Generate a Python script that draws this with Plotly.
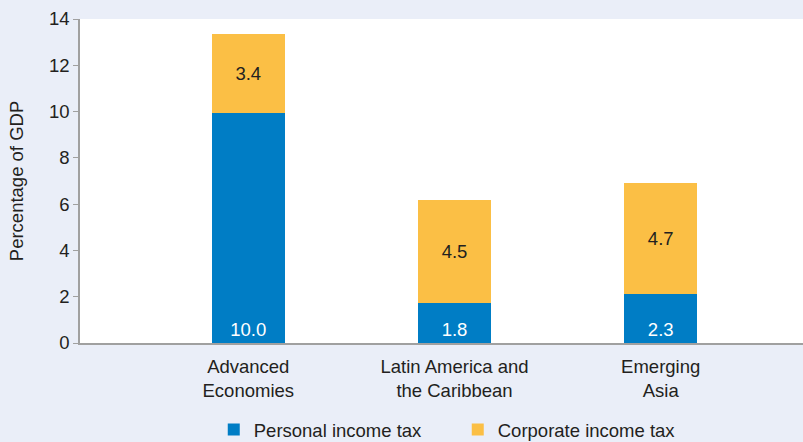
import plotly.graph_objects as go

categories = ["Advanced<br>Economies", "Latin America and<br>the Caribbean", "Emerging<br>Asia"]
positions = [1, 2, 3]
personal = [9.95, 1.75, 2.1]
corporate = [3.4, 4.45, 4.8]
personal_labels = ["10.0", "1.8", "2.3"]
corporate_labels = ["3.4", "4.5", "4.7"]
y_ticks = [0, 2, 4, 6, 8, 10, 12, 14]

FONT = "Liberation Sans, Arial, sans-serif"
TXT = "#231F20"
BLUE = "#007DC5"
ORANGE = "#FBBF45"
FS = 18.5

fig = go.Figure()
fig.add_trace(go.Bar(
    x=positions, y=personal, name="Personal income tax",
    marker=dict(color=BLUE, line=dict(width=0)), width=0.355,
    text=personal_labels, textposition="inside", insidetextanchor="start",
    textfont=dict(color="white", size=FS, family=FONT), textangle=0,
))
fig.add_trace(go.Bar(
    x=positions, y=corporate, name="Corporate income tax",
    marker=dict(color=ORANGE, line=dict(width=0)), width=0.355,
    text=corporate_labels, textposition="inside", insidetextanchor="middle",
    textfont=dict(color=TXT, size=FS, family=FONT), textangle=0,
))

fig.update_layout(
    barmode="stack",
    width=803, height=442,
    margin=dict(l=80, r=0, t=19, b=99),
    paper_bgcolor="#EAEEF8",
    plot_bgcolor="white",
    font=dict(family=FONT, size=FS, color=TXT),
    showlegend=True,
    legend=dict(orientation="h", x=0.185, xanchor="left",
                yref="container", y=0.027, yanchor="middle",
                font=dict(size=FS, family=FONT, color=TXT), traceorder="normal",
                bgcolor="rgba(0,0,0,0)", itemwidth=30, entrywidth=199),
    uniformtext=dict(mode=False),
)
fig.update_xaxes(
    range=[0.184, 3.69], tickvals=positions, ticktext=categories,
    showline=True, linecolor="#A0A0A0", linewidth=1.5, ticks="", showgrid=False,
    zeroline=False, tickfont=dict(size=FS, family=FONT, color=TXT),
    automargin=False, ticklabelstandoff=6,
)
fig.update_yaxes(
    range=[0, 14], tickvals=y_ticks, showgrid=False, zeroline=False,
    showline=True, linecolor="#A0A0A0", linewidth=1.5, ticks="outside",
    ticklen=5, tickcolor="#A0A0A0", tickfont=dict(size=FS, family=FONT, color=TXT),
    automargin=False,
    title=dict(text="Percentage of GDP", font=dict(size=FS, family=FONT, color=TXT), standoff=20),
)

fig.write_html("out.html", config={"displayModeBar": False},
               post_script="document.body.style.margin='0';")
